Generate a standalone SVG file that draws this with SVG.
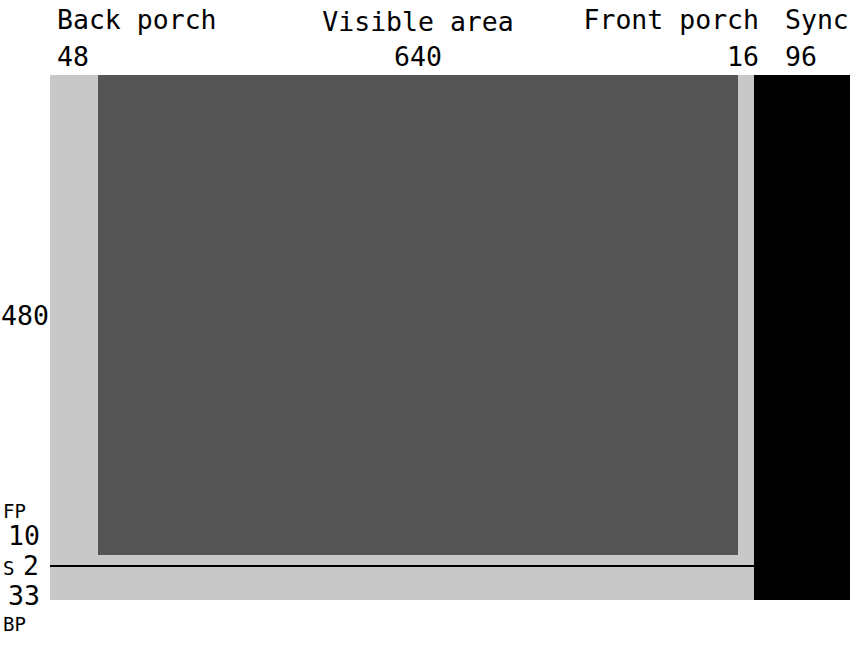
<svg xmlns="http://www.w3.org/2000/svg" width="860" height="650" viewBox="0 0 860 650">
<style>
text{font-family:"DejaVu Sans Mono","Liberation Mono",monospace;fill:#000}
.b{font-size:26.5px}
.s{font-size:19px}
</style>
<rect width="860" height="650" fill="#fff"/>
<g id="frame">
<rect x="50" y="75" width="704" height="525" fill="#c8c8c8"/>
<rect x="98" y="75" width="640" height="480" fill="#555555"/>
<rect x="754" y="75" width="96" height="525" fill="#000"/>
<rect x="50" y="565" width="800" height="2" fill="#000"/>
</g>
<g id="labels-top">
<text class="b" x="57" y="29">Back porch</text>
<text class="b" x="57" y="66">48</text>
<text class="b" x="418" y="31" text-anchor="middle">Visible area</text>
<text class="b" x="418" y="66" text-anchor="middle">640</text>
<text class="b" x="759" y="29" text-anchor="end">Front porch</text>
<text class="b" x="759" y="66" text-anchor="end">16</text>
<text class="b" x="785" y="29">Sync</text>
<text class="b" x="785" y="66">96</text>
</g>
<g id="labels-left">
<text class="b" x="1" y="325">480</text>
<text class="s" x="3" y="518">FP</text>
<text class="b" x="8" y="545">10</text>
<text class="s" x="3" y="575">S</text>
<text class="b" x="23" y="575">2</text>
<text class="b" x="8" y="605">33</text>
<text class="s" x="3" y="631">BP</text>
</g>
</svg>
